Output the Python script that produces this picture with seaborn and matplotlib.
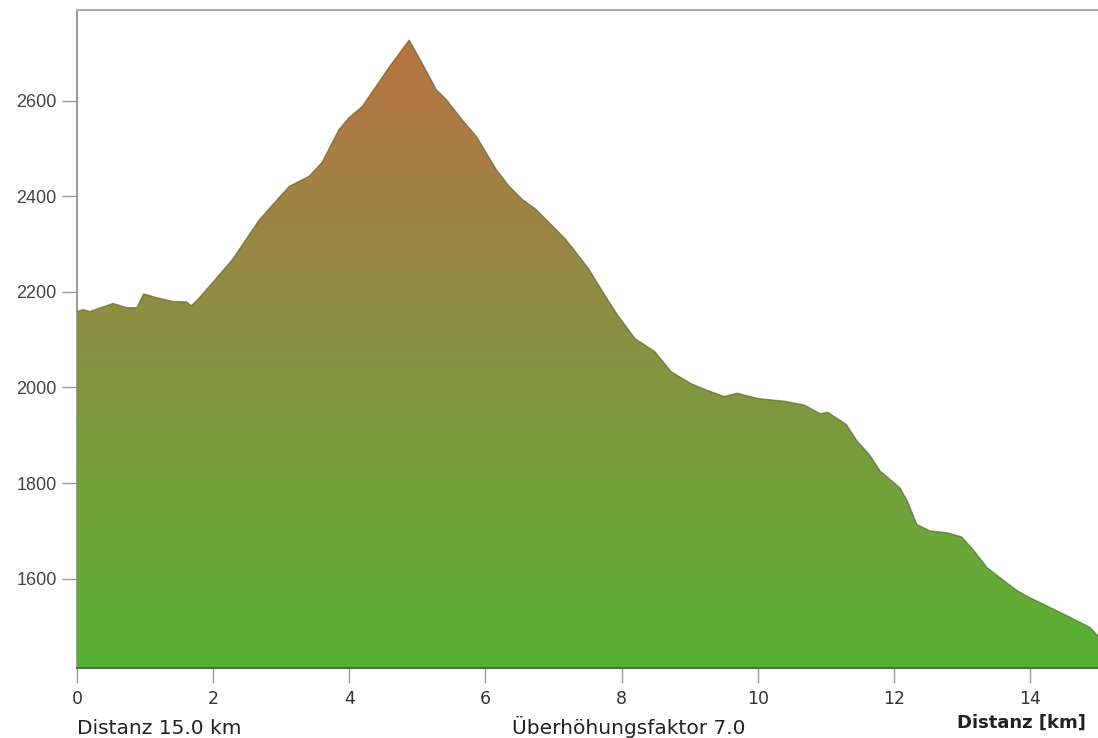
import numpy as np
import pandas as pd
import seaborn as sns
import matplotlib.pyplot as plt
from matplotlib.colors import LinearSegmentedColormap

# Elevation profile
distance_km = [0.0, 0.09, 0.19, 0.53, 0.73, 0.88, 0.98, 1.17, 1.41, 1.61, 1.68, 1.80,
               2.28, 2.68, 3.01, 3.12, 3.41, 3.60, 3.85, 4.0, 4.19, 4.59, 4.88,
               5.07, 5.28, 5.43, 5.66, 5.87, 6.16, 6.35, 6.54, 6.74, 6.93, 7.18,
               7.51, 7.76, 7.95, 8.2, 8.49, 8.73, 9.02, 9.26, 9.51, 9.7, 10.0,
               10.4, 10.69, 10.92, 11.03, 11.3, 11.46, 11.65, 11.8, 12.09, 12.2,
               12.34, 12.53, 12.78, 13.0, 13.18, 13.37, 13.56, 13.81, 14.0, 14.29,
               14.59, 14.88, 15.0]
elevation_m = [2159, 2163, 2159, 2176, 2167, 2167, 2196, 2188, 2180, 2179, 2171, 2188,
               2267, 2351, 2404, 2421, 2442, 2471, 2540, 2565, 2588, 2671, 2727,
               2679, 2623, 2602, 2560, 2525, 2456, 2421, 2394, 2373, 2346, 2310,
               2250, 2192, 2150, 2102, 2075, 2033, 2008, 1994, 1981, 1988, 1977,
               1971, 1963, 1945, 1948, 1923, 1888, 1858, 1825, 1790, 1762,
               1713, 1700, 1696, 1687, 1658, 1623, 1602, 1575, 1560, 1540,
               1519, 1498, 1480]

x_ticks = [0, 2, 4, 6, 8, 10, 12, 14]
y_ticks = [1600, 1800, 2000, 2200, 2400, 2600]

df = pd.DataFrame({'km': distance_km, 'm': elevation_m})

sns.set_style('white')
plt.rcParams['font.family'] = ['DejaVu Sans']

fig = plt.figure(figsize=(10.98, 7.38), dpi=100)
ax = fig.add_axes([0.0701, 0.0949, 0.9299, 0.8915])

ymin, ymax = 1413, 2790
ax.set_xlim(0, 15)
ax.set_ylim(ymin, ymax)

# gradient fill clipped to the profile
cmap = LinearSegmentedColormap.from_list(
    'alt', ['#55b233', '#6ea63a', '#7f983f', '#948b44', '#aa7c45', '#b9733f'])
grad = np.linspace(0, 1, 256).reshape(-1, 1)
img = ax.imshow(grad, extent=[0, 15, ymin, ymax], origin='lower', aspect='auto',
                cmap=cmap, vmin=0, vmax=1, zorder=1)
poly = ax.fill_between(df['km'], df['m'], ymin, color='none', lw=0)
clip = poly.get_paths()[0]
img.set_clip_path(clip, transform=ax.transData)

sns.lineplot(data=df, x='km', y='m', ax=ax, color='#4a5a2a', lw=1.0, alpha=0.6, zorder=2)

ax.set_xticks(x_ticks)
ax.set_yticks(y_ticks)
ax.set_xlabel('')
ax.set_ylabel('')
ax.tick_params(axis='both', which='both', direction='out', length=11, width=1,
               color='#999999', left=True, bottom=True)
ax.tick_params(axis='x', labelcolor='#333333', labelsize=12.5, pad=5)
ax.tick_params(axis='y', labelcolor='#444444', labelsize=13, pad=3.5)
for lab in ax.get_yticklabels():
    lab.set_family('Liberation Sans')

ax.spines['right'].set_visible(False)
ax.spines['top'].set_color('#aaaaaa')
ax.spines['top'].set_linewidth(1.5)
ax.spines['left'].set_color('#888888')
ax.spines['left'].set_linewidth(1.2)
ax.spines['bottom'].set_color('#3f7a2c')
ax.spines['bottom'].set_linewidth(1.5)

fig.text(0.989, 0.009, 'Distanz [km]', ha='right', va='bottom', fontsize=13,
         fontweight='bold', color='#222222')
fig.text(0.070, 0.0, 'Distanz 15.0 km', ha='left', va='bottom', fontsize=14.5,
         color='#222222')
fig.text(0.466, 0.0, 'Überhöhungsfaktor 7.0', ha='left', va='bottom', fontsize=14.5,
         color='#222222')

fig.savefig('out.png', dpi=100)
